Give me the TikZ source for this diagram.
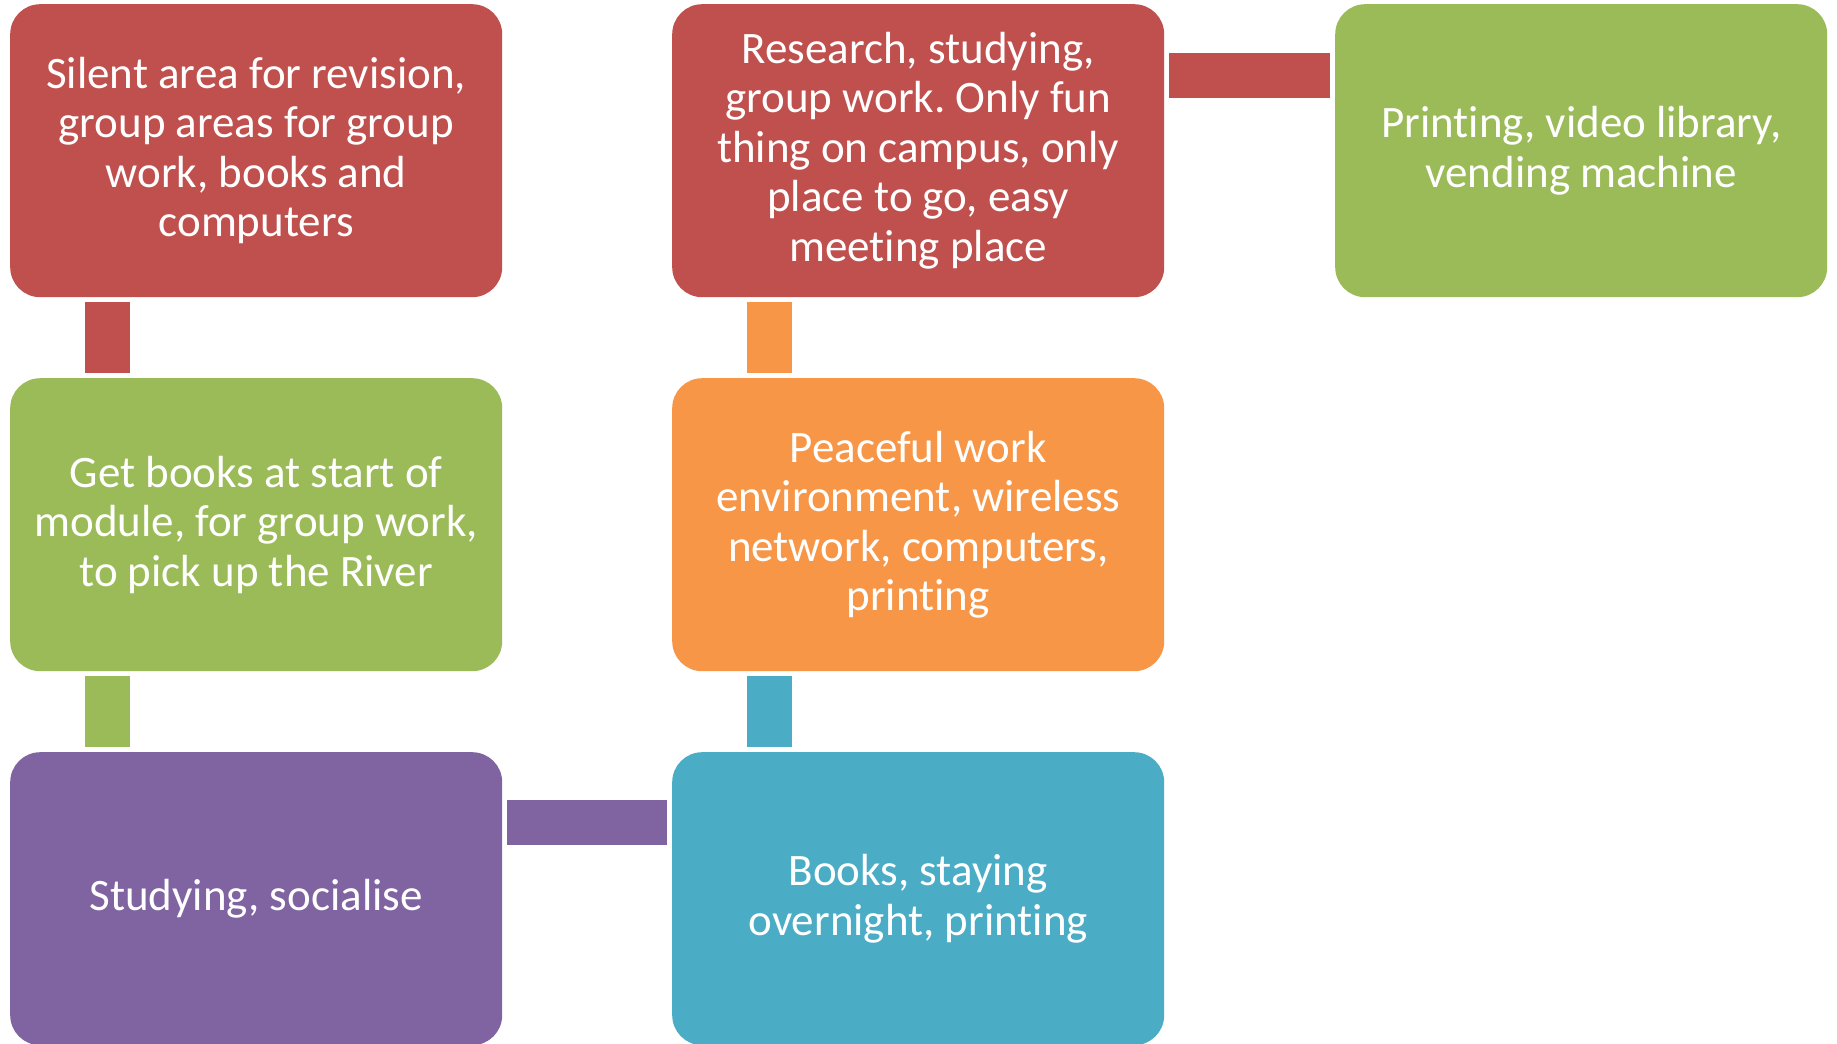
\documentclass[tikz,border=0pt]{standalone}
\usepackage{fontspec}
\setmainfont{Carlito}[Ligatures=NoCommon]
\definecolor{cred}{HTML}{C0504D}
\definecolor{cgreen}{HTML}{9BBB59}
\definecolor{cpurple}{HTML}{8064A2}
\definecolor{corange}{HTML}{F79646}
\definecolor{cblue}{HTML}{4BACC6}
\frenchspacing
\begin{document}
\begin{tikzpicture}[x=1pt,y=-1pt,
  box/.style={rounded corners=30pt, minimum width=492pt, minimum height=293pt,
    inner sep=0pt, text=white, align=center, anchor=north west,
    font=\fontsize{45}{49.5}\selectfont},
  conn/.style={line width=45pt}]
\useasboundingbox (0,0) rectangle (1837,1044);
\node[box, fill=cred] (b1) at (10,4) {Silent area for revision,\\group areas for group\\work, books and\\computers};
\node[box, fill=cgreen] (b2) at (10,378) {Get books at start of\\module, for group work,\\to pick up the River};
\node[box, fill=cpurple] (b3) at (10,752) {Studying, socialise};
\node[box, fill=cred] (b4) at (672,4) {Research, studying,\\group work. Only fun\\thing on campus, only\\place to go, easy\\meeting place};
\node[box, fill=corange] (b5) at (672,378) {Peaceful work\\environment, wireless\\network, computers,\\printing};
\node[box, fill=cblue] (b6) at (672,752) {Books, staying\\overnight, printing};
\node[box, fill=cgreen] (b7) at (1335,4) {Printing, video library,\\vending machine};
\draw[conn, cred] ([xshift=97.5pt,yshift=-5pt]b1.south west) -- ([xshift=97.5pt,yshift=5pt]b2.north west);
\draw[conn, cgreen] ([xshift=97.5pt,yshift=-5pt]b2.south west) -- ([xshift=97.5pt,yshift=5pt]b3.north west);
\draw[conn, corange] ([xshift=97.5pt,yshift=-5pt]b4.south west) -- ([xshift=97.5pt,yshift=5pt]b5.north west);
\draw[conn, cblue] ([xshift=97.5pt,yshift=-5pt]b5.south west) -- ([xshift=97.5pt,yshift=5pt]b6.north west);
\draw[conn, cred] ([xshift=5pt,yshift=-71.5pt]b4.north east) -- ([xshift=-5pt,yshift=-71.5pt]b7.north west);
\draw[conn, cpurple] ([xshift=5pt,yshift=-70pt]b3.north east) -- ([xshift=-5pt,yshift=-70pt]b6.north west);
\end{tikzpicture}
\end{document}
